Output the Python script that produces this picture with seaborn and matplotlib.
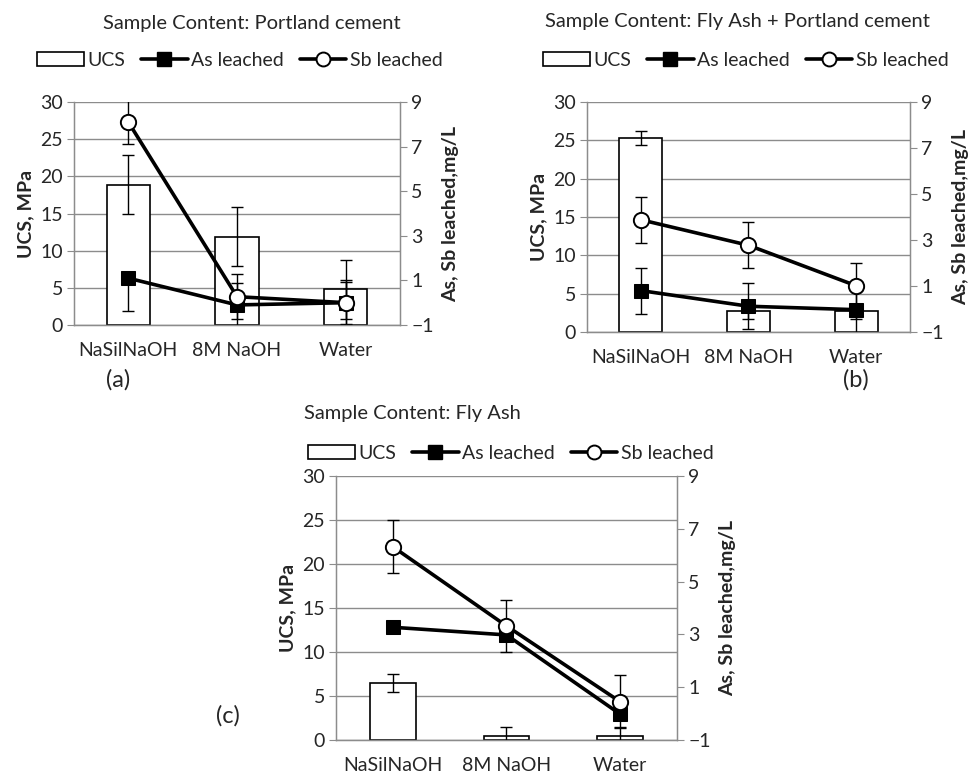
import numpy as np
import matplotlib
matplotlib.use("Agg")
import matplotlib.pyplot as plt
import seaborn as sns
from matplotlib.patches import Patch
from matplotlib.lines import Line2D

sns.set_style("white")
plt.rcParams["font.family"] = ["Lato", "DejaVu Sans"]

# ---- data (UCS in MPa on left axis, As/Sb in mg/L on right axis) ----
categories = ["NaSilNaOH", "8M NaOH", "Water"]

ucs_a = [18.9, 11.9, 4.8]
ucs_a_err = [4.0, 4.0, 4.0]
as_a = [1.1, -0.1, 0.0]
as_a_err_low = [1.45, 1.0, 1.0]
as_a_err_high = [0.0, 1.0, 1.0]
sb_a = [8.1, 0.27, 0.0]
sb_a_err = [1.0, 1.0, 0.95]

ucs_b = [25.3, 2.7, 2.7]
ucs_b_err = [0.95, 1.0, 1.0]
as_b = [0.8, 0.12, -0.03]
as_b_err = [1.0, 1.0, 1.0]
sb_b = [3.88, 2.77, 1.01]
sb_b_err = [1.0, 1.0, 1.0]

ucs_c = [6.45, 0.45, 0.45]
ucs_c_err = [1.0, 1.0, 1.0]
as_c = [3.27, 2.98, -0.02]
as_c_err = [0.0, 0.0, 0.0]
sb_c = [6.32, 3.32, 0.45]
sb_c_err = [1.0, 1.0, 1.0]

W, H = 970, 780
GRID = "#8c8c8c"
FS = 14


def px(x, y):
    return x / W, 1 - y / H


def box(l, t, r, b):
    return [l / W, 1 - b / H, (r - l) / W, (b - t) / H]


def panel(fig, rect, ucs, ucs_err, as_v, as_err, sb_v, sb_err):
    ax = fig.add_axes(rect)
    xs = np.arange(len(categories))
    sns.barplot(x=categories, y=ucs, ax=ax, color="white", edgecolor="black",
                linewidth=1.2, width=0.4, saturation=1)
    ax.errorbar(xs, ucs, yerr=ucs_err, fmt="none", ecolor="black",
                elinewidth=1, capsize=4, capthick=1, zorder=3)
    ax.set_xlim(-0.5, 2.5)
    ax.set_ylim(0, 30)
    ax.set_yticks(range(0, 31, 5))
    ax.set_axisbelow(True)
    ax.yaxis.grid(True, color=GRID, linewidth=1)
    ax.set_xticks(xs)
    ax.set_xticklabels(categories, fontsize=FS)
    ax.set_xticks([-0.5, 0.5, 1.5, 2.5], minor=True)
    ax.tick_params(axis="x", which="major", length=0, pad=12)
    ax.tick_params(axis="x", which="minor", length=5, color=GRID, direction="out")
    ax.tick_params(axis="y", length=5, color=GRID, direction="out", labelsize=FS, pad=3)
    ax.set_ylabel("UCS, MPa", fontsize=FS, fontweight="bold", labelpad=4)
    ax.set_xlabel("")
    ax.spines["top"].set_visible(False)
    for s in ["left", "right", "bottom"]:
        ax.spines[s].set_color(GRID)
        ax.spines[s].set_linewidth(1)

    ax2 = ax.twinx()
    ax2.set_ylim(-1, 9)
    ax2.set_yticks([-1, 1, 3, 5, 7, 9])
    ax2.errorbar(xs, as_v, yerr=as_err, fmt="none", ecolor="black",
                 elinewidth=1, capsize=4, capthick=1, zorder=2)
    ax2.errorbar(xs, sb_v, yerr=sb_err, fmt="none", ecolor="black",
                 elinewidth=1, capsize=4, capthick=1, zorder=2)
    sns.lineplot(x=xs, y=as_v, ax=ax2, color="black", linewidth=2.6, marker="s",
                 markersize=10, markerfacecolor="black", markeredgecolor="black",
                 zorder=4)
    sns.lineplot(x=xs, y=sb_v, ax=ax2, color="black", linewidth=2.6, marker="o",
                 markersize=11, markerfacecolor="white", markeredgecolor="black",
                 markeredgewidth=1.4, zorder=5)
    ax2.tick_params(axis="y", length=5, color=GRID, direction="out", labelsize=FS, pad=3)
    ax2.set_ylabel("As, Sb leached,mg/L", fontsize=FS, fontweight="bold", labelpad=6)
    ax2.spines["top"].set_visible(False)
    for s in ["left", "right", "bottom"]:
        ax2.spines[s].set_color(GRID)
    ax2.grid(False)
    return ax, ax2


def legend_handles():
    return [
        Patch(facecolor="white", edgecolor="black", linewidth=1.2, label="UCS"),
        Line2D([], [], color="black", linewidth=2.6, marker="s", markersize=10,
               markerfacecolor="black", label="As leached"),
        Line2D([], [], color="black", linewidth=2.6, marker="o", markersize=10,
               markerfacecolor="white", markeredgewidth=1.4, label="Sb leached"),
    ]


fig = plt.figure(figsize=(W / 100, H / 100), dpi=100)

panel(fig, box(74, 102, 400, 325), ucs_a, ucs_a_err, as_a,
      [as_a_err_low, as_a_err_high], sb_a, sb_a_err)
panel(fig, box(587, 102, 910, 332), ucs_b, ucs_b_err, as_b, as_b_err, sb_b, sb_b_err)
panel(fig, box(336, 476, 677, 740), ucs_c, ucs_c_err, as_c, as_c_err, sb_c, sb_c_err)

titles = ["Sample Content: Portland cement", "Sample Content: Fly Ash + Portland cement",
          "Sample Content: Fly Ash"]
title_pos = [(252, 23), (737, 21), (412, 414)]
for t, (x, y) in zip(titles, title_pos):
    fig.text(*px(x, y), t, ha="center", va="center", fontsize=14.5)

for (x, y) in [(240, 60), (746, 60), (511, 453)]:
    fig.legend(handles=legend_handles(), loc="center", bbox_to_anchor=px(x, y),
               ncol=3, frameon=False, fontsize=FS, handlelength=2.4,
               handletextpad=0.2, columnspacing=0.8, borderaxespad=0)

for lab, (x, y) in zip(["(a)", "(b)", "(c)"], [(118, 380), (856, 380), (228, 716)]):
    fig.text(*px(x, y), lab, ha="center", va="center", fontsize=17)

fig.savefig("out.png", dpi=100)
